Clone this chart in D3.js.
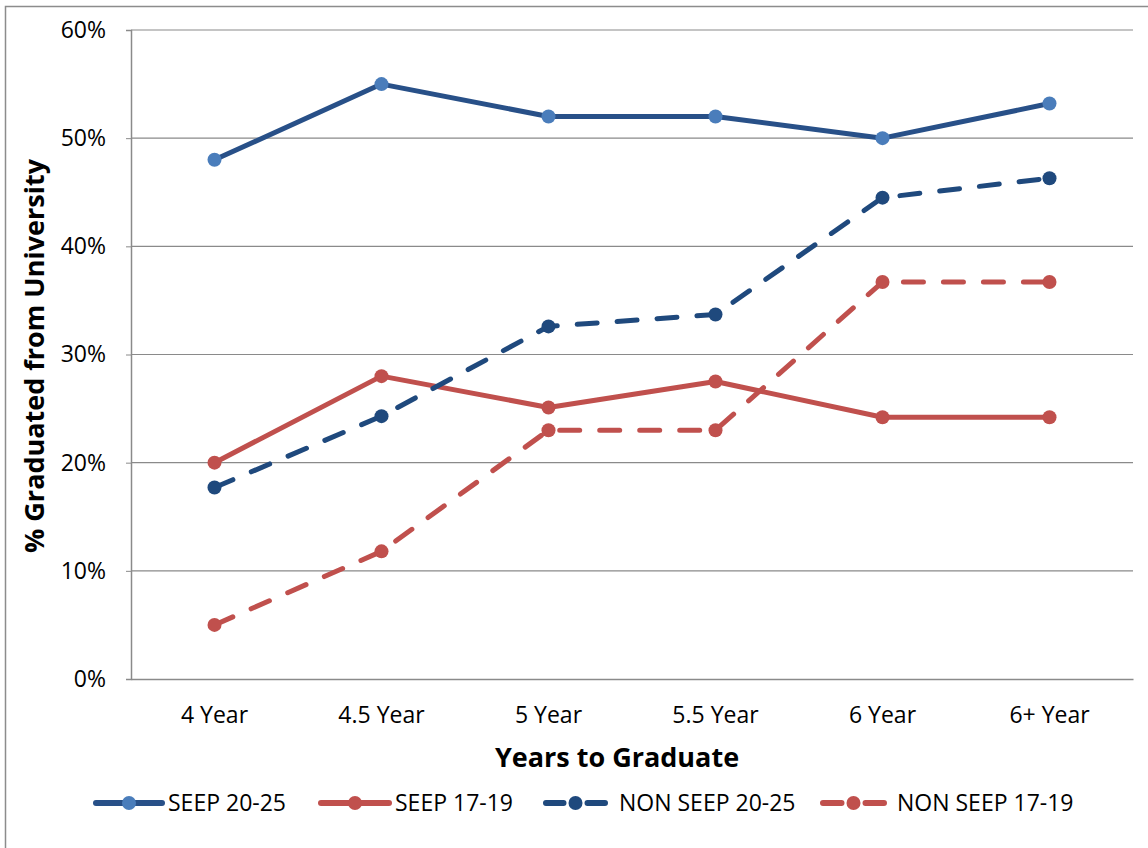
<!DOCTYPE html>
<html>
<head>
<meta charset="utf-8">
<script src="https://cdn.jsdelivr.net/npm/d3@7"></script>
<style>
  html, body { margin: 0; padding: 0; background: #fff; }
  svg { display: block; }
  text { font-family: "Open Sans", Lato, sans-serif; fill: #000; }
</style>
</head>
<body>
<svg id="chart" width="1148" height="848"></svg>
<script>
// Categories and series values (% graduated)
const categories = ["4 Year", "4.5 Year", "5 Year", "5.5 Year", "6 Year", "6+ Year"];
const seep2025 = [48, 55, 52, 52, 50, 53.2];
const seep1719 = [20, 28, 25.1, 27.5, 24.2, 24.2];
const nonSeep2025 = [17.7, 24.3, 32.6, 33.7, 44.5, 46.3];
const nonSeep1719 = [5, 11.8, 23, 23, 36.7, 36.7];
const yTicks = [0, 10, 20, 30, 40, 50, 60];
const seriesNames = ["SEEP 20-25", "SEEP 17-19", "NON SEEP 20-25", "NON SEEP 17-19"];

const series = [
  { name: seriesNames[0], values: seep2025, line: "#285088", dot: "#4a7dbb", dashed: false },
  { name: seriesNames[1], values: seep1719, line: "#c0504d", dot: "#c0504d", dashed: false },
  { name: seriesNames[2], values: nonSeep2025, line: "#1f497d", dot: "#1f497d", dashed: true },
  { name: seriesNames[3], values: nonSeep1719, line: "#c0504d", dot: "#c0504d", dashed: true }
];

const svg = d3.select("#chart");
const plot = { left: 131, right: 1133, top: 30, bottom: 679 };
const font = "'Open Sans', Lato, sans-serif";

// outer chart frame
svg.append("rect")
  .attr("x", 5.5).attr("y", 6.5)
  .attr("width", 1160).attr("height", 900)
  .attr("fill", "none").attr("stroke", "#8c8c8c").attr("stroke-width", 1.5);

const x = d3.scaleBand().domain(categories).range([plot.left, plot.right]);
const y = d3.scaleLinear().domain([0, 60]).range([plot.bottom, plot.top]);

// horizontal gridlines
svg.append("g").selectAll("line")
  .data(yTicks.filter(d => d > 0))
  .join("line")
  .attr("x1", plot.left).attr("x2", plot.right)
  .attr("y1", d => y(d)).attr("y2", d => y(d))
  .attr("stroke", "#8a8a8a").attr("stroke-width", 1.2);

// y axis
const yAxis = d3.axisLeft(y).tickValues(yTicks).tickFormat(d => d + "%").tickSize(5).tickPadding(20);
const gy = svg.append("g").attr("transform", `translate(${plot.left},0)`).call(yAxis);
gy.select(".domain").attr("stroke", "#8a8a8a").attr("stroke-width", 1.5);
gy.selectAll(".tick line").attr("stroke", "#8a8a8a");
gy.selectAll(".tick text").attr("font-size", 23).attr("fill", "#222")
  .style("font-family", font);

// x axis
const xAxis = d3.axisBottom(x).tickSize(0).tickPadding(28);
const gx = svg.append("g").attr("transform", `translate(0,${plot.bottom})`).call(xAxis);
gx.select(".domain").attr("stroke", "#8a8a8a").attr("stroke-width", 1.5);
gx.selectAll(".tick text").attr("font-size", 23).attr("fill", "#222")
  .style("font-family", font);

// axis titles
svg.append("text")
  .attr("x", 617).attr("y", 767)
  .attr("text-anchor", "middle")
  .attr("font-size", 27).attr("font-weight", "bold")
  .text("Years to Graduate");

svg.append("text")
  .attr("transform", "translate(44,356) rotate(-90)")
  .attr("text-anchor", "middle")
  .attr("font-size", 27).attr("font-weight", "bold")
  .text("% Graduated from University");

// series lines and markers
const line = d3.line()
  .x((d, i) => x(categories[i]) + x.bandwidth() / 2)
  .y(d => y(d));

const gs = svg.append("g").selectAll("g").data(series).join("g");
gs.append("path")
  .attr("d", d => line(d.values))
  .attr("fill", "none")
  .attr("stroke", d => d.line)
  .attr("stroke-width", 5)
  .attr("stroke-linejoin", "round")
  .attr("stroke-linecap", "round")
  .attr("stroke-dasharray", d => d.dashed ? "20,20" : null);
gs.selectAll("circle")
  .data(d => d.values.map(v => ({ v, s: d })))
  .join("circle")
  .attr("cx", (d, i) => x(categories[i]) + x.bandwidth() / 2)
  .attr("cy", d => y(d.v))
  .attr("r", 7)
  .attr("fill", d => d.s.dot);

// legend: swatch start/end, and label start
const legendX1 = [96, 321, 546, 823];
const legendX2 = [162, 389, 605, 884];
const legendTextX = [168, 395, 619, 897];
const ly = 803;
const lg = svg.append("g").selectAll("g").data(series).join("g");
lg.append("line")
  .attr("x1", (d, i) => legendX1[i])
  .attr("x2", (d, i) => legendX2[i])
  .attr("y1", ly).attr("y2", ly)
  .attr("stroke", d => d.line)
  .attr("stroke-width", 6)
  .attr("stroke-linecap", "round")
  .attr("stroke-dasharray", (d, i) => {
    if (!d.dashed) return null;
    const len = legendX2[i] - legendX1[i];
    const seg = (len - 24) / 2;
    return `${seg},24,${seg}`;
  });
lg.append("circle")
  .attr("cx", (d, i) => (legendX1[i] + legendX2[i]) / 2)
  .attr("cy", ly).attr("r", 7)
  .attr("fill", d => d.dot);
lg.append("text")
  .attr("x", (d, i) => legendTextX[i])
  .attr("y", ly + 8)
  .attr("font-size", 23)
  .text(d => d.name);
</script>
</body>
</html>
